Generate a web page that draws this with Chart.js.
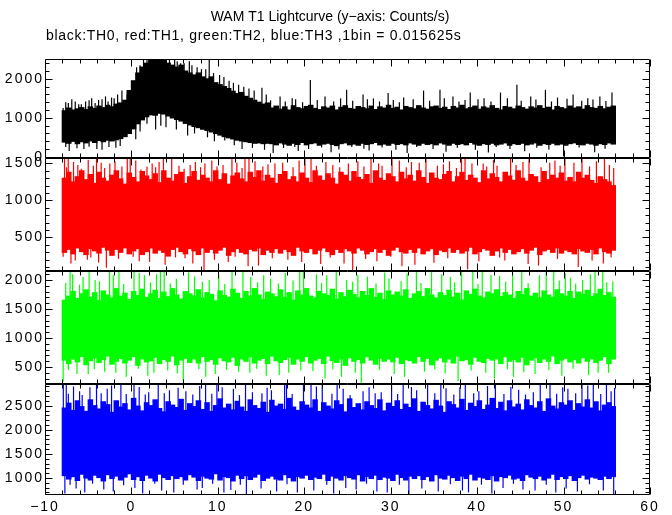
<!DOCTYPE html>
<html>
<head>
<meta charset="utf-8">
<script src="https://cdn.jsdelivr.net/npm/chart.js@4.4.0/dist/chart.umd.min.js"></script>
<style>
  html, body { margin: 0; padding: 0; background: #fff; }
</style>
</head>
<body>
<canvas id="c" width="672" height="515"></canvas>
<script>
// TEXT
const TITLE = 'WAM T1 Lightcurve (y\u2212axis: Counts/s)';
const SUBTITLE = 'black:TH0, red:TH1, green:TH2, blue:TH3 ,1bin = 0.015625s';

// TIME GRID (envelope bins, 0.5 s wide)
const BIN_START = -7.75;
const BIN_STEP = 0.5;

// TH0 (black): dense band upper / lower edge per bin
const TH0_HI = [
  1180,1250,1200,1230,1260,1210,1280,1240,1300,1260,1320,1280,1350,1380,
  1450,1700,1950,2150,2300,2400,2500,2550,2550,2500,
  2400,2350,2300,2350,2200,2150,2100,2150,2050,2000,
  2050,1900,1850,1800,1750,1680,1620,1650,1550,1500,
  1450,1400,1350,1380,
  1250,1300,1220,1280,1200,1310,1260,1230,1290,1320,
  1240,1210,1280,1250,1300,1200,1270,1310,1240,1220,
  1290,1260,1230,1300,1210,1280,1250,1320,1240,1270,
  1200,1290,1260,1230,1310,1250,1220,1280,1300,1240,
  1270,1210,1290,1250,1320,1230,1260,1300,1220,1280,
  1250,1310,1240,1200,1290,1270,1230,1300,1260,1220,
  1280,1250,1310,1240,1270,1200,1290,1260,1230,1300,
  1250,1280,1220,1310,1260,1240,1290,1230,1270,1300
];
const TH0_LO = [
  380,350,400,340,390,360,410,370,420,390,430,410,440,470,
  520,600,720,850,950,1030,1080,1070,1120,1100,
  1050,1000,960,920,860,820,780,750,710,680,
  640,600,560,520,490,460,430,410,390,370,
  350,360,340,350,
  340,310,360,330,300,350,320,370,310,340,
  360,300,330,350,320,290,340,360,310,330,
  300,350,320,340,370,310,330,300,350,320,
  340,310,360,330,300,350,320,340,310,360,
  330,300,350,320,340,310,370,330,300,340,
  320,350,310,330,360,300,340,320,350,310,
  330,360,300,340,320,350,310,330,300,340,
  360,320,310,350,330,300,340,320,360,330
];
// TH0 single-bin spikes [time, value]: tall ones, then the denser fringe
const TH0_SPIKES = [
  [-7.6,1400],[-6.9,1480],[-6.1,1350],[-5.3,1420],[-4.6,1500],[-3.8,1460],[-3.0,1550],
  [-2.3,1520],[-1.6,1600],[-1.1,1700],[0.6,2300],[1.4,2600],[2.2,2700],[2.9,2600],
  [3.6,2650],[4.4,2500],[5.3,2450],[6.1,2400],[7.0,2350],[8.1,2250],[9.0,2600],
  [10.2,2100],[11.3,1950],[12.4,1850],[13.6,1750],[15.1,1770],[17.2,1550],[18.6,1500],
  [20.7,1970],[22.4,1550],[24.9,1720],[26.8,1600],[28.0,1500],[29.7,1640],[31.5,1520],
  [33.8,1700],[35.7,1720],[37.2,1550],[39.2,1650],[40.8,1500],[42.7,1650],[44.6,1850],
  [46.2,1550],[47.9,1720],[49.3,1520],[51.1,1600],[52.8,1500],[54.2,1550],[55.6,1650],
  [-7.2,150],[-5.5,200],[-3.4,180],[-1.8,230],[1.0,650],[2.8,700],[4.0,760],[6.5,550],
  [9.6,400],[12.8,200],[16.4,100],[19.3,150],[23.1,120],[27.5,160],[31.9,100],
  [36.4,130],[41.3,110],[45.5,140],[50.0,10],[53.6,120]
];
const TH0_FRINGE = [
  [-7.9,1250],[-7.3,1380],[-6.5,1420],[-5.8,1350],[-4.9,1450],[-4.2,1380],[-3.4,1480],
  [-2.7,1420],[-2.0,1500],[-0.5,1600],[0.2,1950],[1.0,2350],[1.8,2500],[5.0,2550],
  [5.7,2400],[6.7,2450],[7.6,2300],[8.6,2250],[9.5,2150],[10.7,2050],[11.8,1900],
  [13.0,1800],[14.2,1700],[15.6,1600],[16.1,1450],[17.8,1420],[19.0,1480],[19.8,1400],
  [21.5,1460],[23.4,1420],[24.2,1500],[25.6,1440],[27.3,1480],[28.7,1420],[30.3,1460],
  [31.0,1400],[32.6,1480],[34.5,1440],[36.2,1500],[37.9,1420],[38.6,1460],[40.1,1480],
  [41.6,1420],[43.5,1500],[45.1,1440],[46.8,1470],[48.6,1420],[50.4,1490],[52.1,1440],
  [53.4,1470],[54.9,1430],
  [-7.6,250],[-6.3,220],[-4.9,260],[-4.0,200],[-2.6,250],[-1.3,280],[0.5,450],[1.8,850],
  [3.4,800],[5.2,700],[7.3,600],[8.8,500],[10.8,420],[11.9,300],[14.0,230],[15.4,180],
  [17.6,230],[18.9,250],[20.5,200],[22.0,240],[24.0,190],[25.5,250],[26.9,210],[29.0,240],
  [30.6,180],[33.0,250],[34.9,200],[37.7,230],[39.8,180],[42.2,250],[43.8,200],[46.9,230],
  [48.3,190],[51.8,240],[54.8,210]
];

// TH1 (red)
const TH1_HI = [
  1300,1380,1250,1320,1400,1280,1350,1230,1380,1300,
  1260,1340,1400,1290,1220,1370,1310,1250,1390,1330,
  1280,1360,1240,1400,1300,1260,1350,1380,1230,1320,
  1390,1270,1340,1300,1250,1400,1280,1360,1220,1330,
  1370,1290,1250,1380,1310,1400,1260,1340,1300,1230,
  1350,1390,1280,1320,1250,1370,1300,1240,1400,1330,
  1270,1360,1300,1220,1380,1340,1260,1390,1310,1280,
  1350,1230,1400,1300,1270,1360,1320,1250,1380,1290,
  1340,1260,1400,1310,1230,1370,1300,1280,1350,1390,
  1250,1320,1380,1270,1340,1300,1240,1400,1290,1360,
  1310,1250,1380,1330,1270,1400,1300,1260,1350,1320,
  1240,1390,1280,1340,1300,1370,1260,1310,1250,1380,
  1300,1340,1270,1230,1320,1280,1250,1200
];
const TH1_LO = [
  300,340,280,360,310,270,350,320,290,370,
  330,260,340,300,360,280,320,350,270,310,
  360,290,330,300,250,340,370,310,280,350,
  320,270,360,300,340,290,330,370,260,310,
  350,300,280,340,320,360,270,330,300,350,
  290,340,310,260,370,320,300,350,280,330,
  360,310,270,340,300,350,320,290,360,330,
  280,310,350,300,340,260,330,370,310,290,
  340,300,360,280,320,350,270,330,310,360,
  300,340,290,320,370,280,310,350,330,260,
  320,360,300,340,280,310,350,290,330,370,
  270,320,340,300,360,290,330,310,280,350,
  320,300,340,280,360,310,290,330
];
const TH1_SPIKES = [
  [-7.74,1600],[-7.31,1600],[-4.04,1600],[-0.48,1600],[-0.14,1600],[4.66,1600],[11.63,1600],
  [13.14,1600],[13.6,1600],[20.08,1600],[20.78,1600],[27.72,1600],[30.15,1600],[34.08,1600],
  [38.19,1600],[38.6,1600],[43.87,1600],[46.0,1600],[50.16,1600],[52.13,1600],[54.73,1600],
  [-6.2,1480],[-2.5,1500],[1.8,1460],[3.2,1520],[6.8,1480],[8.5,1500],[9.9,1460],
  [15.8,1490],[17.5,1510],[23.3,1480],[25.1,1500],[29.0,1470],[32.4,1520],[36.1,1490],
  [40.7,1500],[42.3,1470],[48.4,1510],[55.3,1480],
  [-7.0,150],[-5.1,200],[-2.9,90],[0.9,180],[3.9,130],[6.2,220],[8.4,60],[11.2,170],
  [14.7,120],[18.1,200],[21.9,140],[25.6,60],[28.4,180],[31.3,110],[35.0,160],[38.9,70],
  [43.2,190],[47.1,120],[51.7,100],[54.6,150]
];
const TH1_FRINGE = [
  [-7.5,1450],[-6.7,1520],[-5.8,1430],[-5.0,1550],[-4.4,1470],[-3.5,1510],[-3.1,1440],
  [-1.9,1530],[-1.1,1460],[0.5,1540],[1.1,1420],[2.4,1500],[2.8,1450],[3.7,1560],
  [5.5,1470],[6.1,1430],[7.4,1520],[8.0,1450],[9.3,1540],[10.6,1480],[12.2,1510],
  [12.8,1440],[14.3,1530],[15.2,1460],[16.6,1500],[18.7,1450],[19.4,1540],[21.4,1470],
  [22.5,1520],[24.1,1450],[26.2,1530],[26.9,1460],[28.6,1500],[31.0,1540],[31.8,1450],
  [33.3,1510],[35.4,1470],[36.8,1530],[37.6,1440],[39.4,1500],[41.1,1460],[41.9,1550],
  [44.5,1480],[45.3,1520],[47.4,1450],[49.0,1540],[49.6,1470],[51.2,1510],[53.0,1460],
  [53.8,1530],[55.8,1440],
  [-7.9,240],[-6.5,190],[-4.7,230],[-3.8,160],[-1.5,210],[0.2,240],[2.1,170],[5.1,230],
  [7.1,150],[9.6,200],[12.0,240],[13.5,110],[16.3,220],[19.7,170],[23.0,230],[24.6,150],
  [27.1,210],[30.0,240],[32.8,130],[36.6,220],[40.2,180],[42.6,230],[45.9,140],[49.3,210],
  [53.3,190],[55.5,230]
];

// TH2 (green)
const TH2_HI = [
  1650,1720,1800,1680,1760,1830,1700,1780,1640,1810,
  1740,1690,1850,1720,1770,1660,1800,1730,1840,1700,
  1760,1820,1680,1790,1710,1850,1740,1670,1800,1760,
  1720,1830,1690,1780,1750,1640,1810,1730,1700,1840,
  1770,1680,1800,1720,1850,1740,1660,1790,1760,1710,
  1830,1700,1780,1650,1810,1740,1850,1720,1690,1800,
  1760,1730,1840,1670,1780,1710,1820,1750,1690,1800,
  1730,1850,1700,1770,1660,1810,1740,1790,1720,1830,
  1680,1760,1800,1710,1850,1740,1690,1780,1730,1820,
  1700,1770,1650,1810,1750,1840,1720,1690,1790,1760,
  1830,1710,1780,1740,1680,1800,1750,1850,1720,1770,
  1690,1810,1740,1700,1830,1760,1720,1800,1680,1790,
  1750,1820,1710,1760,1840,1730,1780,1700
];
const TH2_LO = [
  620,560,640,590,680,540,610,660,580,630,
  690,550,600,650,570,620,680,530,640,590,
  610,670,560,630,600,690,540,620,650,580,
  640,570,680,600,630,550,660,610,590,670,
  530,640,600,680,570,620,650,560,690,610,
  580,630,670,550,640,600,680,570,620,650,
  560,690,610,580,640,530,660,600,630,570,
  680,620,550,650,600,640,590,670,560,630,
  610,570,680,600,650,540,620,660,590,640,
  570,690,610,630,550,670,600,580,650,620,
  640,560,680,600,630,590,670,540,620,660,
  580,640,600,690,560,620,650,590,630,570,
  660,600,640,580,620,680,560,640
];
const TH2_SPIKES = [
  [-7.1,2200],[-2.53,2200],[-1.44,2200],[0.3,2200],[3.35,2200],[3.79,2200],[11.64,2200],
  [19.47,2200],[19.91,2200],[32.97,2200],[34.72,2200],[39.5,2200],[40.59,2200],[45.16,2200],
  [47.99,2200],[48.86,2200],[53.64,2200],[54.53,2200],
  [-5.6,2050],[-4.2,2000],[1.5,2080],[5.2,2020],[7.3,2060],[9.0,2000],[13.8,2050],
  [16.1,2020],[22.6,2080],[24.9,2000],[27.3,2060],[29.8,2030],[36.9,2050],[42.6,2070],
  [50.8,2040],[52.2,2000],[55.7,1980],
  [-7.9,250],[-6.3,380],[-3.1,420],[-0.6,330],[2.6,400],[6.0,250],[9.7,380],[12.4,420],
  [15.6,350],[18.2,400],[21.0,430],[24.3,330],[26.6,210],[30.4,380],[33.9,420],[37.8,260],
  [41.0,400],[44.2,330],[46.7,380],[52.9,360],[55.2,400]
];
const TH2_FRINGE = [
  [-7.6,1950],[-6.8,2100],[-6.0,1920],[-4.9,2150],[-3.7,1980],[-2.1,2080],[-0.9,1930],
  [0.9,2120],[2.2,1960],[2.9,2100],[4.5,1940],[6.6,2130],[8.2,1970],[10.1,2090],
  [10.8,1930],[12.9,2140],[14.6,1960],[15.3,2080],[17.0,1940],[17.8,2120],[18.7,1990],
  [21.4,2100],[22.0,1950],[23.7,2140],[25.6,1970],[26.2,2090],[28.3,1940],[29.3,2130],
  [31.2,1980],[31.9,2110],[33.5,1950],[35.9,2100],[37.4,1960],[38.2,2140],[40.1,1930],
  [41.6,2090],[43.3,1970],[44.1,2130],[45.9,1950],[47.2,2080],[49.5,1990],[50.2,2120],
  [51.4,1940],[53.1,2100],[55.0,1960],
  [-7.3,450],[-5.0,380],[-4.3,460],[-1.8,400],[0.8,470],[1.9,350],[4.2,440],[5.3,390],
  [7.8,460],[8.6,330],[11.0,450],[13.7,400],[14.5,470],[17.1,360],[19.6,440],[22.4,300],
  [23.3,460],[25.9,400],[28.7,450],[31.6,330],[35.1,460],[36.3,390],[39.3,440],[42.0,300],
  [43.5,460],[45.4,410],[48.3,450],[49.8,350],[51.1,470],[54.0,400]
];

// TH3 (blue)
const TH3_HI = [
  2450,2550,2400,2600,2480,2380,2620,2500,2430,2580,
  2520,2360,2600,2470,2540,2410,2650,2490,2390,2560,
  2500,2620,2440,2370,2580,2510,2460,2630,2400,2540,
  2480,2600,2420,2560,2380,2500,2640,2450,2530,2410,
  2590,2470,2380,2620,2500,2440,2570,2360,2610,2490,
  2530,2420,2650,2470,2400,2580,2510,2450,2620,2380,
  2560,2490,2430,2600,2520,2370,2640,2460,2540,2410,
  2580,2500,2440,2620,2390,2550,2480,2600,2420,2530,
  2460,2640,2380,2570,2500,2430,2610,2490,2360,2580,
  2520,2450,2630,2400,2550,2480,2600,2420,2510,2650,
  2440,2570,2390,2600,2470,2530,2410,2620,2500,2450,
  2580,2380,2640,2490,2430,2560,2510,2600,2400,2540,
  2470,2620,2450,2580,2390,2510,2560,2480
];
const TH3_LO = [
  1050,980,1030,950,1080,1000,960,1060,1010,940,
  1070,990,1040,960,1020,1090,970,1030,950,1060,
  1000,940,1080,1010,970,1050,990,1030,960,1070,
  1020,950,1040,1000,980,1090,960,1030,1010,940,
  1060,990,1050,970,1020,1080,950,1000,1040,980,
  960,1070,1010,940,1030,1000,1060,970,1020,990,
  1080,950,1040,1000,960,1050,1010,980,1070,940,
  1030,990,1060,970,1020,1000,950,1080,1010,960,
  1040,990,1050,970,1030,940,1070,1000,980,1060,
  1010,950,1040,990,1080,960,1020,1000,970,1050,
  940,1030,1010,1060,980,1000,950,1070,1020,990,
  1040,960,1000,1080,970,1030,990,1050,950,1010,
  1060,980,1020,1000,970,1040,990,1030
];
const TH3_SPIKES = [
  [-7.88,3000],[-7.54,3000],[-4.04,3000],[-1.22,3000],[0.3,3000],[8.58,3000],[9.89,3000],
  [17.72,3000],[17.94,3000],[19.91,3000],[20.78,3000],[22.08,3000],[31.44,3000],[34.27,3000],
  [38.63,3000],[42.11,3000],[48.43,3000],[52.13,3000],[53.44,3000],[54.96,3000],
  [-6.0,2800],[-2.8,2850],[2.0,2780],[4.4,2820],[6.3,2800],[11.8,2850],[14.0,2780],
  [16.2,2820],[24.5,2850],[26.8,2800],[28.9,2780],[33.0,2820],[36.4,2860],[40.2,2800],
  [44.8,2830],[46.5,2780],[50.5,2850],[55.5,2800],
  [-7.7,680],[-5.4,700],[-2.1,720],[1.3,680],[4.9,700],[7.6,760],[10.7,700],[13.3,650],
  [16.8,720],[19.2,700],[23.4,680],[26.0,760],[29.6,700],[32.1,650],[35.5,720],[39.0,700],
  [41.7,680],[45.3,760],[49.1,700],[51.6,720],[55.8,650]
];
const TH3_FRINGE = [
  [-7.3,2750],[-6.7,2900],[-5.7,2720],[-4.8,2880],[-3.5,2760],[-2.3,2920],[-0.6,2740],
  [0.9,2890],[1.6,2730],[3.1,2940],[3.8,2760],[5.4,2870],[7.1,2730],[7.9,2910],
  [9.3,2750],[10.5,2880],[12.5,2720],[13.2,2940],[15.1,2760],[15.7,2870],[18.6,2740],
  [21.4,2900],[23.2,2750],[23.8,2930],[25.3,2720],[27.5,2880],[28.2,2760],[30.1,2920],
  [30.8,2740],[32.4,2890],[35.1,2760],[35.8,2930],[37.3,2730],[38.0,2880],[39.6,2760],
  [41.2,2910],[43.1,2740],[43.9,2890],[45.6,2730],[47.3,2940],[49.2,2750],[49.9,2880],
  [51.4,2760],[52.8,2920],[54.3,2740],[55.9,2870],
  [-7.1,860],[-6.4,780],[-4.5,880],[-3.2,760],[-0.9,850],[0.4,790],[2.7,880],[3.5,740],
  [6.0,860],[8.2,790],[9.4,880],[11.5,750],[12.6,860],[15.0,780],[18.0,870],[21.1,740],
  [22.6,860],[24.8,790],[27.2,880],[28.4,720],[31.0,860],[33.6,780],[36.9,870],[38.3,740],
  [40.5,860],[43.0,790],[44.2,880],[46.7,740],[48.0,860],[50.3,780],[53.0,870],[54.6,740]
];

// AXES
const X_MIN = -10, X_MAX = 60, X_STEP = 10, X_MINOR = 2;
const Y1_TICKS = [0, 1000, 2000];
const Y2_TICKS = [500, 1000, 1500];
const Y3_TICKS = [500, 1000, 1500, 2000];
const Y4_TICKS = [1000, 1500, 2000, 2500];

// panel setup: id, y range, weight, ticks, major/minor step, colour
const PANELS = [
  { id: 'y1', hi: TH0_HI, lo: TH0_LO, spikes: TH0_SPIKES.concat(TH0_FRINGE), color: '#000000', min: -30, max: 2510, weight: 99,  ticks: Y1_TICKS, major: 1000, minor: 200 },
  { id: 'y2', hi: TH1_HI, lo: TH1_LO, spikes: TH1_SPIKES.concat(TH1_FRINGE), color: '#ff0000', min: 47,  max: 1574, weight: 113, ticks: Y2_TICKS, major: 500,  minor: 100 },
  { id: 'y3', hi: TH2_HI, lo: TH2_LO, spikes: TH2_SPIKES.concat(TH2_FRINGE), color: '#00ff00', min: 207, max: 2155, weight: 113, ticks: Y3_TICKS, major: 500,  minor: 100 },
  { id: 'y4', hi: TH3_HI, lo: TH3_LO, spikes: TH3_SPIKES.concat(TH3_FRINGE), color: '#0000ff', min: 647, max: 2950, weight: 111, ticks: Y4_TICKS, major: 500,  minor: 100 }
];

const FONT = { family: '"Liberation Sans", Arial, sans-serif', size: 14 };
const fmt = v => String(v).replace('-', '\u2212');
const PLOT_W = 605; // px between the frame's left and right edges

function binTime(i) { return BIN_START + i * BIN_STEP; }
function binOf(t, n) {
    const i = Math.round((t - BIN_START) / BIN_STEP);
    return Math.max(0, Math.min(n - 1, i));
}

const datasets = [];
PANELS.forEach(p => {
    // dense band
    datasets.push({
        data: p.hi.map((h, i) => ({ x: binTime(i), y: [p.lo[i], h] })),
        yAxisID: p.id, xAxisID: 'x',
        backgroundColor: p.color, borderWidth: 0,
        barThickness: PLOT_W / (X_MAX - X_MIN) * BIN_STEP,
        grouped: false, inflateAmount: 0.6, clip: 0
    });
    // thin spikes, drawn from the middle of the band out to the spike value
    datasets.push({
        data: p.spikes.map(([t, v]) => {
            const i = binOf(t, p.hi.length);
            return { x: t, y: [(p.hi[i] + p.lo[i]) / 2, v] };
        }),
        yAxisID: p.id, xAxisID: 'x',
        backgroundColor: p.color, borderWidth: 0,
        barThickness: 1.2, grouped: false, inflateAmount: 0, clip: 0
    });
});

// left-side stacked axes are laid out in reverse, so bottom panel goes first
const scales = {
    x: {
        type: 'linear', position: 'bottom', min: X_MIN, max: X_MAX, offset: false,
        grid: { display: false, drawTicks: false, offset: false },
        border: { display: false },
        ticks: { stepSize: X_STEP, color: '#000', font: FONT, padding: 4, callback: fmt },
        afterFit: s => { s.height = 20; }
    }
};
PANELS.slice().reverse().forEach(p => {
    scales[p.id] = {
        type: 'linear', position: 'left', stack: 'panels', stackWeight: p.weight,
        min: p.min, max: p.max,
        grid: { display: false, drawTicks: false },
        border: { display: false },
        ticks: { color: '#000', font: FONT, padding: 1, autoSkip: false, callback: fmt },
        afterBuildTicks: s => { s.ticks = p.ticks.map(v => ({ value: v })); },
        afterFit: s => { s.width = 45; }
    };
});

// frame, inward tick marks and the two title lines
const framePlugin = {
    id: 'frame',
    beforeDraw(chart) {
        chart.ctx.letterSpacing = '2px';
    },
    afterDatasetsDraw(chart) {
        const ctx = chart.ctx;
        const xs = chart.scales.x;
        ctx.save();
        ctx.strokeStyle = '#000';
        ctx.lineWidth = 1;
        ctx.beginPath();
        PANELS.forEach(p => {
            const ys = chart.scales[p.id];
            const L = Math.round(xs.left) + 0.5, R = Math.round(xs.right) - 0.5;
            const T = Math.round(ys.top) + 0.5, B = Math.round(ys.bottom) - 0.5;
            ctx.rect(L, T, R - L, B - T);
            for (let v = Math.ceil(p.min / p.minor) * p.minor; v <= p.max; v += p.minor) {
                const py = Math.round(ys.getPixelForValue(v)) + 0.5;
                const len = v % p.major === 0 ? 7 : 4;
                ctx.moveTo(L, py); ctx.lineTo(L + len, py);
                ctx.moveTo(R, py); ctx.lineTo(R - len, py);
            }
            for (let v = X_MIN; v <= X_MAX; v += X_MINOR) {
                const px = Math.round(xs.getPixelForValue(v)) + 0.5;
                const len = v % X_STEP === 0 ? 7 : 4;
                ctx.moveTo(px, T); ctx.lineTo(px, T + len);
                ctx.moveTo(px, B); ctx.lineTo(px, B - len);
            }
        });
        ctx.stroke();
        ctx.restore();
    },
    afterDraw(chart) {
        const ctx = chart.ctx;
        ctx.save();
        ctx.fillStyle = '#000';
        ctx.font = '14px "Liberation Sans", Arial, sans-serif';
        ctx.textBaseline = 'alphabetic';
        ctx.letterSpacing = '0px';
        ctx.textAlign = 'center';
        ctx.fillText(TITLE, 330, 21);
        ctx.letterSpacing = '0.7px';
        ctx.textAlign = 'left';
        ctx.fillText(SUBTITLE, 46, 40);
        ctx.restore();
    }
};

new Chart(document.getElementById('c'), {
    type: 'bar',
    data: { datasets },
    options: {
        responsive: false,
        devicePixelRatio: 1,
        animation: false,
        layout: { padding: { top: 59, right: 22, left: 0, bottom: 0 } },
        plugins: { legend: { display: false }, tooltip: { enabled: false } },
        scales
    },
    plugins: [framePlugin]
});
</script>
</body>
</html>
